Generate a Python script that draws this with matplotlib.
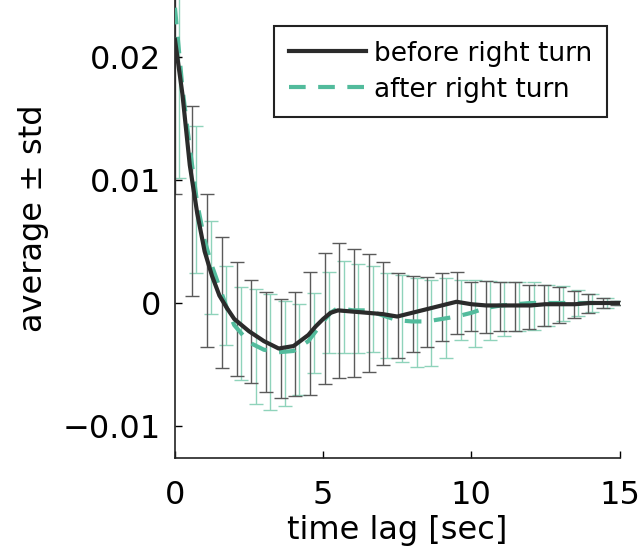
import matplotlib
matplotlib.use('Agg')
import matplotlib.pyplot as plt
import numpy as np

plt.rcParams['font.family'] = ['DejaVu Sans']

# mean curves (dense)
line_t = [0, 0.25, 0.5, 0.75, 1.0, 1.25, 1.5, 1.75, 2.0, 2.5, 3.0, 3.5, 4.0, 4.5,
          4.75, 5.0, 5.25, 5.5, 6.0, 6.5, 7.0, 7.5, 8.0, 8.5, 9.0, 9.5, 10.0,
          10.5, 11.0, 11.5, 12.0, 12.5, 13.0, 13.5, 14.0, 14.5, 15.0]
before_mean = [0.0214, 0.0170, 0.0112, 0.0073, 0.0042, 0.0022, 0.0006, -0.0004,
               -0.0013, -0.0023, -0.0031, -0.0037, -0.0035, -0.0026, -0.0019,
               -0.0013, -0.0008, -0.0006, -0.0007, -0.0008, -0.0009, -0.0011,
               -0.0008, -0.0005, -0.0002, 0.0001, -0.0001, -0.0002, -0.0002,
               -0.0002, -0.0002, -0.0001, -0.0001, -0.0001, 0.0, 0.0, 0.0]
after_mean = [0.0240, 0.0175, 0.0126, 0.0081, 0.0051, 0.0030, 0.0013, -0.0004,
              -0.0018, -0.0032, -0.0038, -0.0040, -0.0039, -0.0031, -0.0023,
              -0.0015, -0.0008, -0.0004, -0.0006, -0.0006, -0.0010, -0.0014,
              -0.0015, -0.0015, -0.0013, -0.0011, -0.0008, -0.0004, -0.0002,
              -0.0001, 0.0, 0.0, 0.0, 0.0, 0.0, 0.0, 0.0]

# error bar samples
bar_t = [0.0, 0.58, 1.08, 1.58, 2.08, 2.58, 3.07, 3.57, 4.06, 4.56, 5.05, 5.55,
         6.04, 6.53, 7.02, 7.52, 8.02, 8.51, 9.0, 9.5, 9.99, 10.48, 10.97,
         11.46, 11.96, 12.46, 12.95, 13.45, 13.94, 14.43, 14.9]
before_bar = [0.0214, 0.0083, 0.00265, 0.00005, -0.0013, -0.0023, -0.00315,
              -0.0037, -0.00335, -0.0025, -0.00125, -0.0006, -0.0008, -0.0008,
              -0.00085, -0.00105, -0.0009, -0.00075, -0.00035, 0.0, -0.0003,
              -0.0003, -0.0003, -0.0003, -0.0003, -0.0002, -0.00015, -0.0001,
              -0.00005, 0.0, 0.0]
before_std = [0.0125, 0.0077, 0.00625, 0.00535, 0.0046, 0.0042, 0.00405, 0.0040,
              0.00425, 0.0050, 0.00535, 0.0055, 0.0052, 0.0048, 0.00415,
              0.00345, 0.0031, 0.00285, 0.00275, 0.0025, 0.0020, 0.0021, 0.0020,
              0.0020, 0.0018, 0.0017, 0.00145, 0.0011, 0.00075, 0.0004, 0.0002]
after_bar = [0.0232, 0.0084, 0.0029, -0.0002, -0.0025, -0.00355, -0.0040,
             -0.0041, -0.0038, -0.00245, -0.0008, -0.00035, -0.00045, -0.0005,
             -0.00105, -0.00125, -0.0016, -0.0016, -0.00125, -0.00055, -0.00085,
             -0.0006, -0.0005, -0.0003, -0.00025, -0.0002, -0.00005, 0.0, 0.0,
             0.0, 0.0]
after_std = [0.0130, 0.0060, 0.0038, 0.0032, 0.0038, 0.00465, 0.0047, 0.0043,
             0.0037, 0.00325, 0.0033, 0.00375, 0.00365, 0.0035, 0.00345, 0.00355,
             0.0036, 0.0035, 0.00325, 0.00245, 0.00275, 0.0024, 0.0022, 0.0020,
             0.00195, 0.0017, 0.00145, 0.00105, 0.0007, 0.0004, 0.0002]

black = '#2b2b2b'
teal = '#52bb9c'

fig = plt.figure(figsize=(6.44, 5.52), dpi=100)
ax = fig.add_axes([0.2717, 0.1703, 0.6903, 0.8297])

# error bars first, curves on top
ax.errorbar(bar_t, before_bar, yerr=before_std, fmt='none', ecolor='#5a5a5a',
            elinewidth=1.0, capsize=5, capthick=1.0, zorder=2)
ax.errorbar(np.array(bar_t) + 0.14, after_bar, yerr=after_std, fmt='none',
            ecolor='#8fd3bb', elinewidth=1.0, capsize=5, capthick=1.0, zorder=1)

ax.plot(line_t, before_mean, color=black, lw=3, label='before right turn', zorder=4)
ax.plot(line_t, after_mean, color=teal, lw=3, ls=(0, (4, 3)),
        label='after right turn', zorder=3)

ax.set_xlim(0, 15)
ax.set_ylim(-0.0126, 0.02463)
ax.set_xticks([0, 5, 10, 15])
ax.set_yticks([-0.01, 0, 0.01, 0.02])
ax.set_yticklabels(['\u22120.01', '0', '0.01', '0.02'])
ax.tick_params(direction='in', length=5, width=1, labelsize=23)
ax.tick_params(axis='x', pad=16)
ax.tick_params(axis='y', pad=10)
ax.spines['top'].set_visible(False)
ax.spines['right'].set_visible(False)
for s in ('left', 'bottom'):
    ax.spines[s].set_linewidth(1.2)
    ax.spines[s].set_color('#222222')

ax.set_xlabel('time lag [sec]', fontsize=23, labelpad=3)
ax.set_ylabel('average \u00b1 std', fontsize=23, labelpad=10, y=0.524)

leg = ax.legend(loc='upper right', bbox_to_anchor=(0.972, 0.943), borderaxespad=0,
                fontsize=19, handlelength=2.95, handletextpad=0.3,
                borderpad=0.55, labelspacing=0.38, fancybox=False, framealpha=1)
leg.get_frame().set_edgecolor('#222222')
leg.get_frame().set_linewidth(1.5)

fig.savefig('out.png', dpi=100)
